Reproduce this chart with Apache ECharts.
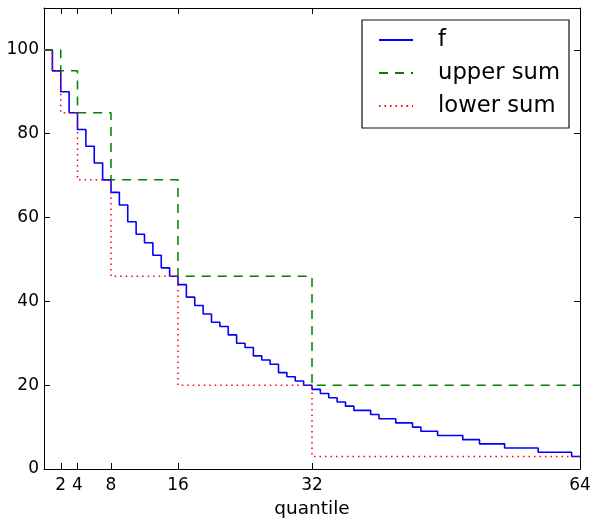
<!DOCTYPE html>
<html>
<head>
<meta charset="utf-8">
<script src="https://cdn.jsdelivr.net/npm/echarts@6/dist/echarts.min.js"></script>
<style>
    html, body { margin: 0; padding: 0; background: #ffffff; }
    #chart { width: 594px; height: 521px; }
</style>
</head>
<body>
<div id="chart"></div>
<script>
// value of f on each quantile interval [i, i+1)
const fValues = [
    100, 95, 90, 85, 81, 77, 73, 69,
    66, 63, 59, 56, 54, 51, 48, 46,
    44, 41, 39, 37, 35, 34, 32, 30,
    29, 27, 26, 25, 23, 22, 21, 20,
    19, 18, 17, 16, 15, 14, 14, 13,
    12, 12, 11, 11, 10, 9, 9, 8,
    8, 8, 7, 7, 6, 6, 6, 5,
    5, 5, 5, 4, 4, 4, 4, 3
];
// upper / lower sums: interval edges and the value held on each interval
const upperEdges = [0, 2, 4, 8, 16, 32, 64];
const upperValues = [100, 95, 85, 69, 46, 20];
const lowerEdges = [0, 1, 2, 4, 8, 16, 32, 64];
const lowerValues = [100, 95, 85, 69, 46, 20, 3];

const xTicks = [2, 4, 8, 16, 32, 64];
const yTicks = [0, 20, 40, 60, 80, 100];

const FONT = 'DejaVu Sans';

// step points: value held from edge i up to edge i+1
function stepData(edges, values) {
    let res = [];
    for (let i = 0; i < values.length; i++) {
        res.push([edges[i], values[i]]);
    }
    res.push([edges[edges.length - 1], values[values.length - 1]]);
    return res;
}

let fEdges = fValues.map((v, i) => i).concat([fValues.length]);

let myChart = echarts.init(document.getElementById('chart'));

let tickCommon = {
    show: true,
    inside: true,
    length: 6,
    lineStyle: { color: '#000', width: 1 }
};
let lineCommon = {
    show: true,
    onZero: false,
    lineStyle: { color: '#000', width: 1 }
};

let option = {
    animation: false,
    backgroundColor: '#ffffff',
    grid: {
        left: 44,
        right: 14,
        top: 8,
        bottom: 52,
        outerBoundsMode: 'none'
    },
    legend: {
        right: 25,
        top: 20,
        orient: 'vertical',
        backgroundColor: '#ffffff',
        borderColor: '#111',
        borderWidth: 1.2,
        borderRadius: 0,
        padding: [7, 9, 9, 16],
        itemWidth: 34,
        itemHeight: 14,
        itemGap: 7,
        // hide the marker dot, keep only the line sample
        itemStyle: { color: 'rgba(0,0,0,0)', borderWidth: 0 },
        textStyle: {
            fontFamily: FONT,
            fontSize: 22.7,
            color: '#000',
            lineHeight: 26,
            padding: [0, 0, 0, 20]
        },
        data: ['f', 'upper sum', 'lower sum']
    },
    xAxis: [
        {
            type: 'value',
            position: 'bottom',
            min: 0,
            max: 64,
            name: 'quantile',
            nameLocation: 'middle',
            nameGap: 31,
            nameTextStyle: { fontFamily: FONT, fontSize: 18.5, color: '#000' },
            axisLine: lineCommon,
            axisTick: Object.assign({}, tickCommon, { customValues: xTicks }),
            axisLabel: {
                customValues: xTicks,
                fontFamily: FONT,
                fontSize: 17,
                color: '#000',
                margin: 8
            },
            splitLine: { show: false }
        },
        {
            type: 'value',
            position: 'top',
            min: 0,
            max: 64,
            axisLine: lineCommon,
            axisTick: Object.assign({}, tickCommon, { customValues: xTicks }),
            axisLabel: { show: false },
            splitLine: { show: false }
        }
    ],
    yAxis: [
        {
            type: 'value',
            position: 'left',
            min: 0,
            max: 110,
            axisLine: lineCommon,
            axisTick: Object.assign({}, tickCommon, { customValues: yTicks }),
            axisLabel: {
                customValues: yTicks,
                fontFamily: FONT,
                fontSize: 17,
                color: '#000',
                margin: 5
            },
            splitLine: { show: false }
        },
        {
            type: 'value',
            position: 'right',
            min: 0,
            max: 110,
            axisLine: lineCommon,
            axisTick: Object.assign({}, tickCommon, { customValues: yTicks }),
            axisLabel: { show: false },
            splitLine: { show: false }
        }
    ],
    series: [
        {
            name: 'f',
            type: 'line',
            step: 'end',
            symbol: 'none',
            xAxisIndex: 0,
            yAxisIndex: 0,
            lineStyle: { color: '#0000ff', width: 1.6 },
            itemStyle: { color: '#0000ff' },
            data: stepData(fEdges, fValues)
        },
        {
            name: 'upper sum',
            type: 'line',
            step: 'end',
            symbol: 'none',
            xAxisIndex: 0,
            yAxisIndex: 0,
            lineStyle: { color: '#008000', width: 1.5, type: [9, 7] },
            itemStyle: { color: '#008000' },
            data: stepData(upperEdges, upperValues)
        },
        {
            name: 'lower sum',
            type: 'line',
            step: 'end',
            symbol: 'none',
            xAxisIndex: 0,
            yAxisIndex: 0,
            lineStyle: { color: '#ff0000', width: 1.5, type: [1.5, 4] },
            itemStyle: { color: '#ff0000' },
            data: stepData(lowerEdges, lowerValues)
        }
    ]
};

myChart.setOption(option);
</script>
</body>
</html>
